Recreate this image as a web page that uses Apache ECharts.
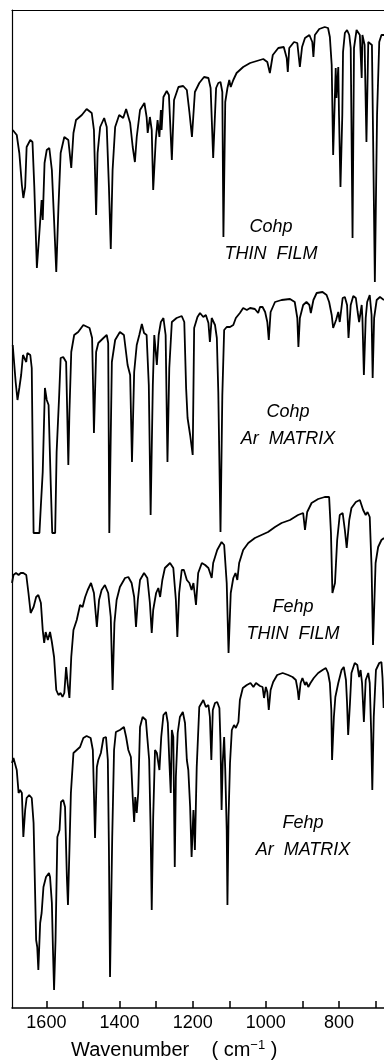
<!DOCTYPE html>
<html>
<head>
<meta charset="utf-8">
<title>IR spectra of Cohp and Fehp</title>
<script src="https://cdn.jsdelivr.net/npm/echarts@6/dist/echarts.min.js"></script>
<style>
  html, body { margin: 0; padding: 0; background: #fff; }
  #chart { width: 384px; height: 1062px; }
</style>
</head>
<body>
<div id="chart"></div>
<script>
// Wavenumber axis (cm-1): tick marks every 100, labels every 200
const tickValues = [700, 800, 900, 1000, 1100, 1200, 1300, 1400, 1500, 1600];
const labelValues = [800, 1000, 1200, 1400, 1600];

// Spectra: [wavenumber (cm-1), transmittance on a shared, vertically offset scale]
const cohpFilm = [
  [1692,878],[1681,873],[1674,855],[1667,823],[1663,810],[1658,821],[1654,861],[1644,868],[1638,866],
  [1633,821],[1626,740],[1620,771],[1613,808],[1610,788],[1605,845],[1599,858],[1592,860],[1585,838],
  [1579,788],[1573,736],[1567,801],[1561,855],[1551,871],[1540,868],[1532,840],[1526,875],[1519,888],
  [1503,893],[1490,899],[1476,895],[1470,878],[1464,793],[1460,855],[1453,881],[1442,890],[1435,881],
  [1429,821],[1424,759],[1419,838],[1412,881],[1401,893],[1390,890],[1382,899],[1371,885],[1364,861],
  [1358,846],[1353,871],[1344,898],[1332,905],[1326,891],[1323,875],[1317,891],[1312,878],[1308,818],
  [1301,868],[1296,888],[1291,871],[1287,898],[1285,878],[1280,911],[1271,917],[1265,913],[1257,848],
  [1251,908],[1239,921],[1226,922],[1216,918],[1209,896],[1202,871],[1194,916],[1182,925],[1169,931],
  [1157,930],[1151,920],[1144,850],[1136,920],[1130,925],[1124,926],[1119,916],[1116,771],[1111,906],
  [1105,920],[1100,928],[1096,921],[1089,928],[1080,935],[1062,941],[1043,945],[1025,947],[1007,949],
  [996,946],[989,935],[981,953],[966,960],[951,961],[943,950],[940,936],[936,960],[923,966],[914,965],
  [907,941],[901,961],[893,970],[881,973],[873,966],[870,951],[866,973],[854,979],[839,981],[830,980],
  [825,971],[820,943],[816,853],[809,940],[807,910],[802,941],[800,893],[796,821],[791,893],[789,956],
  [784,975],[778,978],[772,973],[768,960],[763,770],[759,960],[752,978],[748,980],[743,973],[738,930],
  [736,973],[730,963],[725,866],[720,966],[716,968],[710,963],[707,876],[702,726],[696,893],[690,966],
  [684,973],[677,973]
];

const cohpMatrix = [
  [1692,663],[1688,661],[1684,626],[1679,608],[1674,620],[1669,633],[1664,653],[1660,655],[1655,646],
  [1652,655],[1644,653],[1640,640],[1635,475],[1619,475],[1615,503],[1610,536],[1604,620],[1599,608],
  [1594,603],[1588,523],[1584,475],[1576,475],[1572,556],[1565,613],[1561,650],[1554,651],[1546,646],
  [1543,595],[1540,543],[1537,596],[1532,656],[1524,673],[1513,676],[1499,683],[1482,680],[1475,670],
  [1472,616],[1470,575],[1464,656],[1458,665],[1444,670],[1435,673],[1431,665],[1428,475],[1421,646],
  [1412,668],[1399,676],[1388,673],[1378,643],[1371,633],[1366,546],[1360,636],[1353,663],[1346,673],
  [1339,684],[1333,675],[1326,673],[1320,623],[1315,493],[1309,623],[1305,673],[1298,643],[1293,673],
  [1287,686],[1280,690],[1274,673],[1269,546],[1264,640],[1257,686],[1244,690],[1230,692],[1223,686],
  [1218,620],[1214,590],[1207,573],[1200,553],[1196,680],[1187,691],[1180,695],[1171,691],[1164,693],
  [1157,685],[1153,666],[1148,690],[1144,691],[1139,683],[1134,670],[1130,616],[1124,476],[1119,613],
  [1114,678],[1107,681],[1098,681],[1089,683],[1082,690],[1071,695],[1062,700],[1052,698],[1043,700],
  [1030,699],[1021,695],[1016,701],[1009,701],[1002,696],[996,686],[992,668],[987,696],[975,706],
  [957,708],[934,709],[921,706],[914,690],[911,661],[907,690],[898,703],[889,706],[881,703],[877,695],
  [870,708],[861,715],[845,716],[834,713],[827,706],[820,693],[816,680],[808,688],[802,696],[798,686],
  [790,710],[784,711],[778,703],[774,670],[768,703],[761,712],[754,710],[749,696],[745,686],[738,703],
  [736,690],[732,633],[727,690],[723,706],[716,713],[711,693],[708,630],[704,690],[697,708],[688,711],
  [677,708]
];

const fehpFilm = [
  [1694,425],[1690,433],[1683,435],[1676,433],[1670,435],[1663,435],[1655,433],[1649,415],[1643,395],
  [1635,401],[1628,411],[1622,413],[1615,405],[1610,378],[1606,365],[1602,376],[1596,368],[1590,376],
  [1585,366],[1579,351],[1573,318],[1567,313],[1561,315],[1556,311],[1551,315],[1546,341],[1542,325],
  [1537,310],[1532,351],[1526,378],[1517,388],[1508,403],[1501,401],[1494,411],[1487,418],[1478,425],
  [1470,415],[1462,381],[1456,408],[1449,418],[1440,423],[1431,415],[1424,391],[1419,318],[1414,385],
  [1408,408],[1399,421],[1385,430],[1376,431],[1367,425],[1360,411],[1355,381],[1350,408],[1344,428],
  [1333,435],[1324,430],[1317,405],[1312,375],[1308,398],[1300,415],[1294,420],[1289,411],[1283,428],
  [1276,440],[1262,445],[1253,440],[1246,408],[1242,371],[1237,415],[1230,438],[1224,438],[1216,428],
  [1209,425],[1203,418],[1198,425],[1191,403],[1185,435],[1175,445],[1166,443],[1157,440],[1148,430],
  [1144,445],[1133,458],[1121,466],[1114,463],[1107,425],[1102,355],[1096,415],[1089,430],[1083,435],
  [1078,428],[1073,445],[1062,458],[1048,465],[1030,470],[1012,473],[994,476],[975,481],[957,485],
  [934,488],[912,493],[898,495],[893,478],[887,496],[875,505],[857,509],[839,511],[827,511],[822,475],
  [818,415],[811,425],[805,468],[798,493],[790,495],[784,478],[779,460],[772,488],[766,500],[754,506],
  [743,508],[734,498],[727,493],[722,496],[716,491],[711,441],[707,363],[700,445],[693,461],[684,468],
  [677,470]
];

const fehpMatrix = [
  [1694,245],[1690,250],[1685,248],[1681,238],[1676,215],[1672,218],[1667,215],[1663,171],[1658,198],
  [1654,210],[1647,213],[1640,210],[1635,185],[1631,118],[1628,68],[1625,61],[1622,38],[1617,85],
  [1613,95],[1608,121],[1601,131],[1593,135],[1590,131],[1585,105],[1582,58],[1579,18],[1575,68],
  [1570,171],[1564,178],[1560,206],[1554,208],[1549,201],[1544,131],[1541,103],[1537,158],[1533,215],
  [1526,255],[1517,258],[1508,261],[1499,270],[1490,272],[1479,270],[1473,258],[1470,215],[1467,170],
  [1462,241],[1458,248],[1451,255],[1444,270],[1437,271],[1432,248],[1429,158],[1426,31],[1420,171],
  [1415,258],[1410,276],[1399,278],[1388,281],[1382,271],[1376,258],[1369,251],[1364,211],[1360,186],
  [1357,211],[1353,195],[1349,215],[1344,281],[1337,291],[1328,288],[1324,270],[1319,248],[1315,178],
  [1312,98],[1308,191],[1303,258],[1298,255],[1291,238],[1286,271],[1280,293],[1273,296],[1268,285],
  [1264,248],[1260,215],[1257,278],[1253,271],[1249,141],[1246,231],[1241,275],[1235,291],[1227,296],
  [1221,285],[1216,248],[1212,238],[1207,201],[1203,151],[1198,198],[1194,158],[1189,241],[1182,301],
  [1171,308],[1164,301],[1157,303],[1153,291],[1149,248],[1145,298],[1139,305],[1133,306],[1127,300],
  [1124,265],[1121,198],[1118,245],[1114,271],[1111,238],[1107,178],[1105,103],[1102,191],[1098,245],
  [1093,278],[1087,283],[1082,280],[1075,286],[1071,308],[1063,320],[1052,323],[1042,325],[1034,321],
  [1027,325],[1016,322],[1009,321],[1005,310],[1000,321],[996,316],[992,298],[987,318],[980,326],
  [969,333],[954,335],[939,333],[927,331],[918,328],[913,318],[910,308],[905,325],[900,330],[893,323],
  [889,326],[884,321],[878,325],[869,330],[857,335],[845,338],[836,340],[830,335],[825,325],[821,298],
  [819,248],[814,291],[810,311],[802,325],[793,338],[787,341],[781,328],[778,305],[775,273],[770,305],
  [766,335],[757,345],[750,343],[745,331],[741,338],[737,325],[732,286],[727,328],[720,335],[716,325],
  [712,275],[709,218],[705,291],[699,338],[690,345],[684,346],[681,330],[678,300]
];

const spectra = [
  { name: 'Cohp THIN FILM', data: cohpFilm },
  { name: 'Cohp Ar MATRIX', data: cohpMatrix },
  { name: 'Fehp THIN FILM', data: fehpFilm },
  { name: 'Fehp Ar MATRIX', data: fehpMatrix }
];

// Sample annotations: [compound, sample form, centre x, first-line y]
const annotations = [
  ['Cohp', 'THIN  FILM', 271, 227],
  ['Cohp', 'Ar  MATRIX', 288, 412],
  ['Fehp', 'THIN  FILM', 293, 607],
  ['Fehp', 'Ar  MATRIX', 303, 823]
];

const FONT = '"Liberation Sans", Arial, Helvetica, sans-serif';
const chart = echarts.init(document.getElementById('chart'), null, { renderer: 'canvas' });

const graphics = [];
annotations.forEach(([compound, form, cx, cy]) => {
  graphics.push({
    type: 'text', x: cx, y: cy, silent: true,
    style: { text: compound, font: 'italic 18px ' + FONT, fill: '#000', textAlign: 'center', textVerticalAlign: 'middle' }
  });
  graphics.push({
    type: 'text', x: cx, y: cy + 27, silent: true,
    style: { text: form, font: 'italic 18px ' + FONT, fill: '#000', textAlign: 'center', textVerticalAlign: 'middle' }
  });
});
graphics.push({
  type: 'text', x: 71, y: 1050, silent: true,
  style: {
    text: 'Wavenumber    ( cm{sup|−1} )',
    font: '20px ' + FONT, fill: '#000', textAlign: 'left', textVerticalAlign: 'middle',
    rich: { sup: { fontSize: 13, fontFamily: FONT, verticalAlign: 'top', padding: [0, 0, 9, 0] } }
  }
});

chart.setOption({
  animation: false,
  backgroundColor: '#fff',
  grid: { left: 12, right: 0, top: 10, bottom: 54 },
  xAxis: [
    {
      type: 'value', inverse: true, min: 677, max: 1694, position: 'bottom',
      axisLine: { show: true, onZero: false, lineStyle: { color: '#000', width: 1.5 } },
      axisTick: { show: true, inside: true, length: 7, customValues: tickValues, lineStyle: { color: '#000', width: 1.5 } },
      axisLabel: {
        customValues: labelValues, fontSize: 18, color: '#000', margin: 6, fontFamily: FONT,
        formatter: v => String(v)
      },
      splitLine: { show: false }
    },
    {
      type: 'value', inverse: true, min: 677, max: 1694, position: 'top',
      axisLine: { show: true, onZero: false, lineStyle: { color: '#000', width: 1.2 } },
      axisTick: { show: false }, axisLabel: { show: false }, splitLine: { show: false }
    }
  ],
  yAxis: {
    type: 'value', min: 0, max: 998,
    axisLine: { show: true, onZero: false, lineStyle: { color: '#000', width: 1.2 } },
    axisTick: { show: false }, axisLabel: { show: false }, splitLine: { show: false }
  },
  series: spectra.map(s => ({
    type: 'line', name: s.name, data: s.data, xAxisIndex: 0,
    symbol: 'none', smooth: false, silent: true,
    lineStyle: { color: '#000', width: 1.8 }
  })),
  graphic: graphics
});
</script>
</body>
</html>
